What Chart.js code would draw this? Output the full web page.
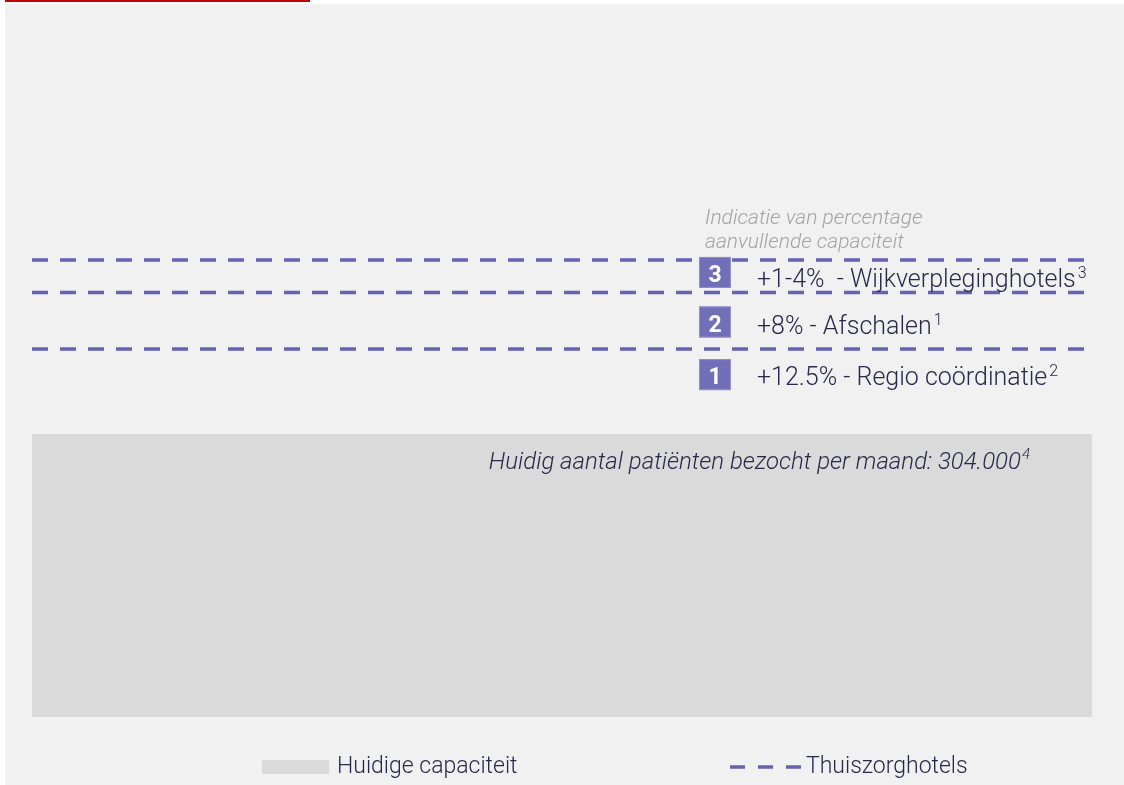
<!DOCTYPE html>
<html lang="nl">
<head>
<meta charset="UTF-8">
<title>Capaciteit thuiszorg</title>
<script src="https://cdn.jsdelivr.net/npm/chart.js"></script>
<style>
  html, body { margin: 0; padding: 0; background: #fff; overflow: hidden; }
  .top-bar { position: absolute; left: 5px; top: 0; width: 305px; height: 2px; background: #c00000; }
  .panel { position: absolute; left: 5px; top: 4px; width: 1119px; height: 781px; background: #f1f1f1; }
  canvas { display: block; }
</style>
</head>
<body>
<div class="top-bar"></div>
<div class="panel"><canvas id="capChart" width="1119" height="781"></canvas></div>
<script>
// data
const categories = ['Huidige capaciteit'];
const currentCapacity = [100];               // index, huidige capaciteit = 100
const hotelLevels = [130, 150, 161.5];       // gestippelde lijnen (Thuiszorghotels)
const stepNumbers = ['1', '2', '3'];
const stepLabels = ['+12.5% - Regio coördinatie', '+8% - Afschalen', '+1-4%  - Wijkverpleginghotels'];
const stepNotes = ['2', '1', '3'];
const headerLines = ['Indicatie van percentage', 'aanvullende capaciteit'];
const patientsText = 'Huidig aantal patiënten bezocht per maand: 304.000';
const patientsNote = '4';
const legendLabels = ['Huidige capaciteit', 'Thuiszorghotels'];

const textColor = '#29284a';
const purple = '#6562b2';

// the capacity block spans the full width, so it is a filled level from x=0 to x=1
const datasets = [{
  label: categories[0],
  data: [{ x: 0, y: currentCapacity[0] }, { x: 1, y: currentCapacity[0] }],
  backgroundColor: '#dadada',
  borderWidth: 0,
  pointRadius: 0,
  fill: 'origin',
  order: 2
}];
hotelLevels.forEach(v => {
  datasets.push({
    label: legendLabels[1],
    data: [{ x: 0, y: v }, { x: 1, y: v }],
    borderColor: purple,
    borderWidth: 3.5,
    borderDash: [16, 12],
    pointRadius: 0,
    fill: false,
    order: 1
  });
});

// labels, boxes and legend drawn on the canvas
const notesPlugin = {
  id: 'notes',
  afterDatasetsDraw(chart) {
    const { ctx, chartArea: a, scales: { y } } = chart;
    ctx.save();
    ctx.textBaseline = 'alphabetic';
    ctx.textAlign = 'left';

    // header
    const topLine = y.getPixelForValue(hotelLevels[2]);
    ctx.font = 'italic 300 21px Roboto';
    ctx.fillStyle = '#a3a3a3';
    ctx.fillText(headerLines[0], a.left + 673, topLine - 36);
    ctx.fillText(headerLines[1], a.left + 673, topLine - 12);

    // numbered rows
    const baseOffsets = [36, 41, 27];
    const boxOffsets = [26, 27, 30];
    stepNumbers.forEach((num, i) => {
      const base = y.getPixelForValue(hotelLevels[i]) + baseOffsets[i];
      const bx = a.left + 667, by = base - boxOffsets[i];
      ctx.fillStyle = '#726fb9';
      ctx.fillRect(bx, by, 32, 31);
      ctx.strokeStyle = '#9290cb';
      ctx.lineWidth = 1;
      ctx.strokeRect(bx + 0.5, by + 0.5, 31, 30);
      ctx.fillStyle = '#fff';
      ctx.font = 'bold 23px Roboto';
      ctx.textAlign = 'center';
      ctx.fillText(num, bx + 16, by + 25);
      ctx.textAlign = 'left';

      ctx.fillStyle = textColor;
      ctx.font = '300 25px Roboto';
      const tx = a.left + 725;
      ctx.fillText(stepLabels[i], tx, base);
      const w = ctx.measureText(stepLabels[i]).width;
      ctx.font = '300 16px Roboto';
      ctx.fillText(stepNotes[i], tx + w + 2, base - 9);
    });

    // current patients note
    const barTop = y.getPixelForValue(currentCapacity[0]);
    ctx.font = 'italic 300 15px Roboto';
    const nw = ctx.measureText(patientsNote).width;
    ctx.font = 'italic 300 24px Roboto';
    const pw = ctx.measureText(patientsText).width;
    const pEnd = a.right - 62;
    ctx.fillStyle = textColor;
    ctx.fillText(patientsText, pEnd - nw - 1 - pw, barTop + 35);
    ctx.font = 'italic 300 15px Roboto';
    ctx.fillText(patientsNote, pEnd - nw, barTop + 25);

    // legend
    const ly = a.bottom + 50;
    const barSet = chart.data.datasets[0];
    const lineSet = chart.data.datasets[1];
    ctx.fillStyle = barSet.backgroundColor;
    ctx.fillRect(a.left + 230, ly - 7, 67, 14);
    ctx.fillStyle = textColor;
    ctx.font = '300 23px Roboto';
    ctx.textBaseline = 'middle';
    ctx.fillText(barSet.label, a.left + 305, ly);

    ctx.strokeStyle = lineSet.borderColor;
    ctx.lineWidth = lineSet.borderWidth;
    ctx.setLineDash([15, 13]);
    ctx.beginPath();
    ctx.moveTo(a.left + 698, ly);
    ctx.lineTo(a.left + 769, ly);
    ctx.stroke();
    ctx.setLineDash([]);
    ctx.fillText(lineSet.label, a.left + 774, ly);
    ctx.restore();
  }
};

const ctx = document.getElementById('capChart').getContext('2d');
new Chart(ctx, {
  type: 'line',
  data: { datasets: datasets },
  options: {
    responsive: false,
    animation: false,
    layout: { padding: { left: 27, right: 32, top: 147, bottom: 68 } },
    plugins: { legend: { display: false }, tooltip: { enabled: false } },
    scales: {
      x: { type: 'linear', display: false, offset: false, min: 0, max: 1 },
      y: { display: false, min: 0, max: 200 }
    }
  },
  plugins: [notesPlugin]
});
</script>
</body>
</html>
